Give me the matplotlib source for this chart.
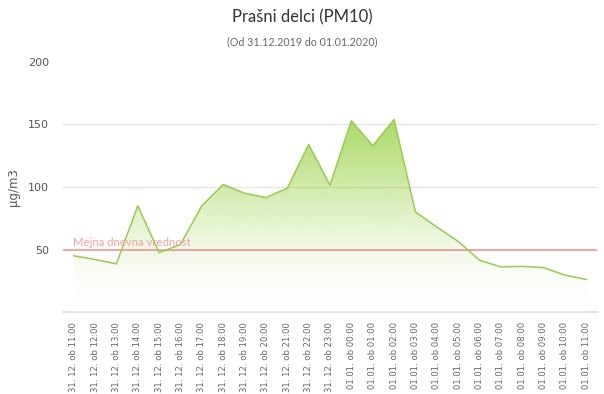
import matplotlib
matplotlib.use("Agg")
import matplotlib.pyplot as plt
import numpy as np
from matplotlib.colors import LinearSegmentedColormap

categories = ["31. 12. ob 11:00", "31. 12. ob 12:00", "31. 12. ob 13:00", "31. 12. ob 14:00",
              "31. 12. ob 15:00", "31. 12. ob 16:00", "31. 12. ob 17:00", "31. 12. ob 18:00",
              "31. 12. ob 19:00", "31. 12. ob 20:00", "31. 12. ob 21:00", "31. 12. ob 22:00",
              "31. 12. ob 23:00", "01.01. ob 00:00", "01.01. ob 01:00", "01.01. ob 02:00",
              "01.01. ob 03:00", "01.01. ob 04:00", "01.01. ob 05:00", "01.01. ob 06:00",
              "01.01. ob 07:00", "01.01. ob 08:00", "01.01. ob 09:00", "01.01. ob 10:00",
              "01.01. ob 11:00"]
pm10 = [45, 42, 38.5, 85, 47.5, 54, 85, 102, 95, 91.5, 99, 134, 101.5, 153, 133, 154,
        80, 68, 56.5, 41.5, 36, 36.5, 35.5, 29.5, 26]
limit_value = 50
limit_label = "Mejna dnevna vrednost"
yticks = [50, 100, 150, 200]

W, H = 604, 394
fig = plt.figure(figsize=(W / 100, H / 100), dpi=100)
left, right, top, bottom = 63, 597, 62, 312
ax = fig.add_axes([left / W, (H - bottom) / H, (right - left) / W, (bottom - top) / H])

x = np.arange(len(categories))
ax.set_xlim(-0.5, len(categories) - 0.5)
ax.set_ylim(0, 200)

# gridlines
for t in [50, 100, 150]:
    ax.axhline(t, color="#e6e6e6", lw=1, zorder=0)

# gradient fill
ymax = max(pm10)
green = np.array([155, 212, 75]) / 255
cmap = LinearSegmentedColormap.from_list(
    "g", [(0, (1, 1, 1, 0)), (0.4, (*green, 0.2)), (1, (*green, 0.85))])
grad = np.linspace(0, 1, 256).reshape(-1, 1)
im = ax.imshow(grad, extent=[x[0], x[-1], 0, ymax], origin="lower", aspect="auto",
               cmap=cmap, zorder=1, interpolation="bicubic")
poly = ax.fill_between(x, pm10, 0, facecolor="none", edgecolor="none")
path = poly.get_paths()[0]
im.set_clip_path(path, transform=ax.transData)

ax.plot(x, pm10, color="#9acb4e", lw=1.1, zorder=3)

# limit line
ax.axhline(limit_value, color="#f09090", lw=1.1, zorder=2)
ax.text(x[0] - 0.05, limit_value + 1.5, limit_label, color="#f5a0a0", fontsize=8.2,
        family="Lato", ha="left", va="bottom", zorder=4)

# axes style
for s in ["top", "right", "left"]:
    ax.spines[s].set_visible(False)
ax.spines["bottom"].set_color("#e0e0e0")
ax.spines["bottom"].set_linewidth(1.2)

ax.set_yticks(yticks)
ax.set_yticklabels([str(t) for t in yticks], fontsize=8, color="#555555", family="DejaVu Sans")
ax.tick_params(axis="y", length=0, pad=10)
ax.set_xticks(x)
ax.set_xticklabels(categories, rotation=90, fontsize=6.1, color="#666666", family="DejaVu Sans",
                   va="top", ha="center")
ax.tick_params(axis="x", length=0, pad=7)

ax.set_ylabel("µg/m3", fontsize=8.5, color="#555555", family="DejaVu Sans")
ax.yaxis.set_label_coords((20 - left) / (right - left), 0.5)

fig.text(0.5, 1 - 17 / H, "Prašni delci (PM10)", ha="center", va="center",
         fontsize=12, color="#333333", family="Lato")
fig.text(0.5, 1 - 42 / H, "(Od 31.12.2019 do 01.01.2020)", ha="center", va="center",
         fontsize=7.7, color="#666666", family="Lato")

fig.savefig("out.png", dpi=100, facecolor="white")
